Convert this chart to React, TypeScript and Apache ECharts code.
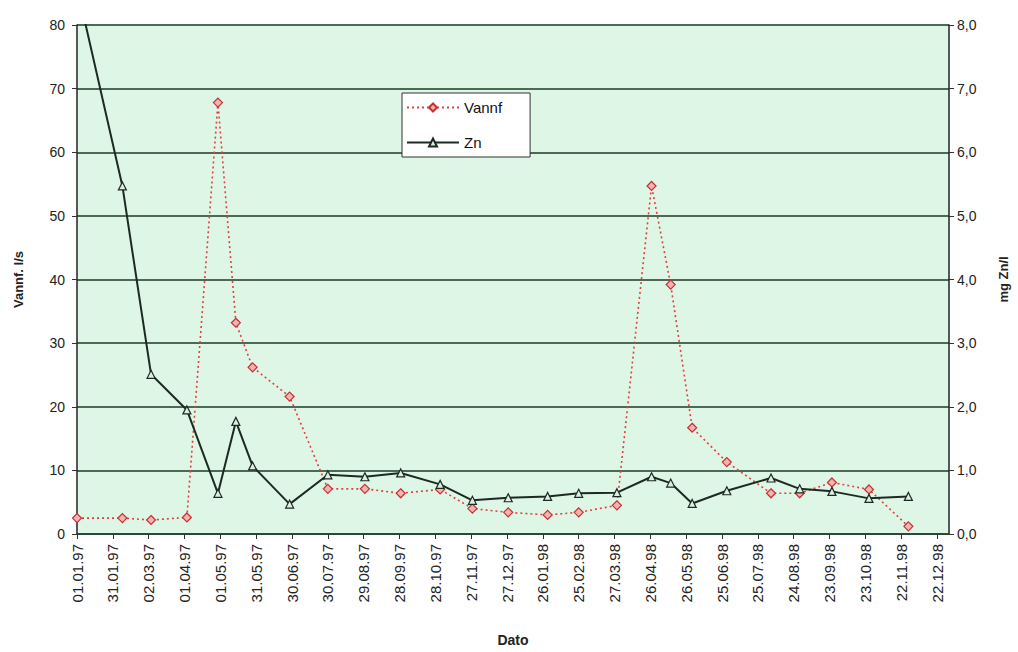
import React, { useEffect, useRef } from "react";
import * as echarts from "echarts";

const sampleDates = [
  "1997-01-01", "1997-02-08", "1997-03-04", "1997-04-03", "1997-04-29",
  "1997-05-14", "1997-05-28", "1997-06-28", "1997-07-30", "1997-08-30",
  "1997-09-29", "1997-11-01", "1997-11-28", "1997-12-28", "1998-01-30",
  "1998-02-25", "1998-03-29", "1998-04-27", "1998-05-13", "1998-05-31",
  "1998-06-29", "1998-08-05", "1998-08-29", "1998-09-25", "1998-10-26",
  "1998-11-28",
];
const vannf = [
  2.5, 2.5, 2.2, 2.6, 67.8, 33.2, 26.2, 21.6, 7.1, 7.1,
  6.4, 7.0, 4.0, 3.4, 3.0, 3.4, 4.5, 54.7, 39.2, 16.7,
  11.3, 6.4, 6.4, 8.1, 7.0, 1.2,
];
const zn = [
  8.6, 5.47, 2.51, 1.95, 0.64, 1.77, 1.07, 0.47, 0.93, 0.9,
  0.96, 0.78, 0.53, 0.57, 0.59, 0.64, 0.65, 0.9, 0.8, 0.48,
  0.68, 0.88, 0.71, 0.67, 0.56, 0.59,
];
const axisStart = "1997-01-01";
const axisEndDays = 730;
const tickDays = 30;
const leftTicks = { min: 0, max: 80, step: 10 };
const rightTicks = { min: 0, max: 8, step: 1 };

const DAY = 86400000;
function toUTC(s: string) {
  const [y, m, d] = s.split("-").map(Number);
  return Date.UTC(y, m - 1, d);
}
function dayOffset(s: string) {
  return Math.round((toUTC(s) - toUTC(axisStart)) / DAY);
}
function fmtDay(v: number) {
  const dt = new Date(toUTC(axisStart) + v * DAY);
  const dd = String(dt.getUTCDate()).padStart(2, "0");
  const mm = String(dt.getUTCMonth() + 1).padStart(2, "0");
  const yy = String(dt.getUTCFullYear() % 100).padStart(2, "0");
  return `${dd}.${mm}.${yy}`;
}

export default function App() {
  const ref = useRef<HTMLDivElement>(null);
  useEffect(() => {
    document.body.style.margin = "0";
    if (!ref.current) return;
    const chart = echarts.init(ref.current, undefined, { renderer: "svg" });
    const font = "Arial, 'Liberation Sans', sans-serif";
    const gridColor = "#4d6855";
    chart.setOption({
      animation: false,
      textStyle: { fontFamily: font },
      grid: {
        left: 77,
        right: 63,
        top: 25,
        bottom: 111,
        show: true,
        backgroundColor: "#def6e5",
        borderWidth: 0,
      },
      legend: {
        orient: "vertical",
        left: 402,
        top: 93,
        backgroundColor: "#ffffff",
        borderColor: "#333333",
        borderWidth: 1,
        borderRadius: 0,
        padding: [7, 28, 7, 4],
        itemGap: 20,
        itemWidth: 52,
        itemHeight: 10,
        textStyle: { fontFamily: font, fontSize: 15, color: "#111" },
        data: ["Vannf", "Zn"],
      },
      xAxis: {
        type: "value",
        min: 0,
        max: axisEndDays,
        interval: tickDays,
        name: "Dato",
        nameLocation: "middle",
        nameGap: 99,
        nameTextStyle: { fontSize: 14, fontWeight: "bold", color: "#222" },
        axisLine: { show: true, onZero: false, lineStyle: { color: "#2b3a2f", width: 1.5 } },
        axisTick: { show: true, length: 5, lineStyle: { color: "#333" } },
        splitLine: { show: false },
        axisLabel: {
          rotate: 90,
          fontSize: 15,
          color: "#222",
          margin: 10,
          showMaxLabel: false,
          formatter: (v: number) => (v % tickDays === 0 ? fmtDay(v) : ""),
        },
      },
      yAxis: [
        {
          type: "value",
          min: leftTicks.min,
          max: leftTicks.max,
          interval: leftTicks.step,
          name: "Vannf. l/s",
          nameLocation: "middle",
          nameGap: 52,
          nameRotate: 90,
          nameTextStyle: { fontSize: 13, fontWeight: "bold", color: "#222" },
          axisLine: { show: true, lineStyle: { color: "#222", width: 1.5 } },
          axisTick: { show: true, length: 5, lineStyle: { color: "#333" } },
          axisLabel: { fontSize: 14, color: "#222", margin: 12 },
          splitLine: { show: true, lineStyle: { color: gridColor, width: 2 } },
        },
        {
          type: "value",
          min: rightTicks.min,
          max: rightTicks.max,
          interval: rightTicks.step,
          name: "mg Zn/l",
          nameLocation: "middle",
          nameGap: 48,
          nameRotate: 90,
          nameTextStyle: { fontSize: 13, fontWeight: "bold", color: "#222" },
          axisLine: { show: true, lineStyle: { color: "#222", width: 1.5 } },
          axisTick: { show: true, length: 5, lineStyle: { color: "#333" } },
          axisLabel: {
            fontSize: 14,
            color: "#222",
            margin: 8,
            formatter: (v: number) => v.toFixed(1).replace(".", ","),
          },
          splitLine: { show: false },
        },
      ],
      series: [
        {
          name: "Vannf",
          type: "line",
          yAxisIndex: 0,
          data: sampleDates.map((d, i) => [dayOffset(d), vannf[i]]),
          symbol: "diamond",
          symbolSize: 9,
          color: "#d83a3a",
          lineStyle: { color: "#e04040", width: 1.6, type: [2, 3] },
          itemStyle: { color: "#f2b3b3", borderColor: "#c83030", borderWidth: 1.2 },
          z: 3,
        },
        {
          name: "Zn",
          type: "line",
          yAxisIndex: 1,
          data: sampleDates.map((d, i) => [dayOffset(d), zn[i]]),
          symbol: "triangle",
          symbolSize: 8,
          color: "#1c2a21",
          lineStyle: { color: "#1c2a21", width: 2 },
          itemStyle: { color: "#dcefe2", borderColor: "#1c2a21", borderWidth: 1.2 },
          z: 4,
        },
      ],
    });
    return () => chart.dispose();
  }, []);
  return <div ref={ref} style={{ width: 1018, height: 652 }} />;
}
